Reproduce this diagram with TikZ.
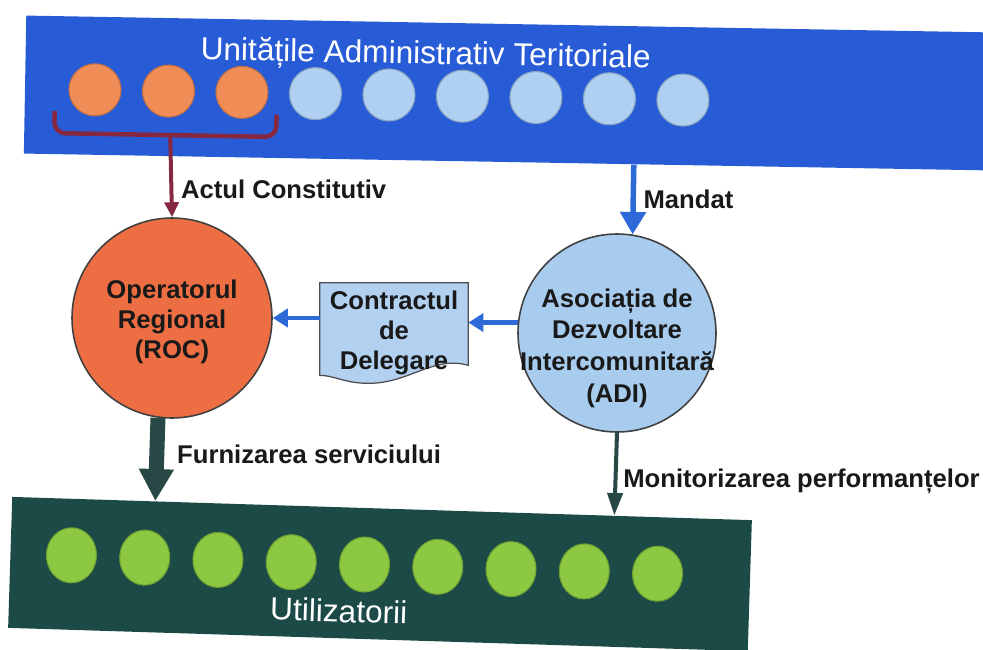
\documentclass[tikz,border=0pt]{standalone}
\usepackage{fontspec}
\setmainfont{Liberation Sans}
\usetikzlibrary{arrows.meta,positioning,calc}
\pgfdeclarelayer{background}
\pgfsetlayers{background,main}
\definecolor{uatblue}{RGB}{40,92,214}
\definecolor{dotorange}{RGB}{240,140,85}
\definecolor{dotblue}{RGB}{175,208,240}
\definecolor{bracered}{RGB}{135,40,65}
\definecolor{rocorange}{RGB}{238,110,68}
\definecolor{adiblue}{RGB}{168,204,238}
\definecolor{docblue}{RGB}{178,208,240}
\definecolor{userteal}{RGB}{28,74,70}
\definecolor{dotgreen}{RGB}{140,200,65}
\definecolor{darkarrow}{RGB}{40,72,70}
\definecolor{arrowblue}{RGB}{45,105,215}
\newcommand\lblfont{\fontsize{14.6}{17}\selectfont\bfseries}
\newcommand\bandfont{\fontsize{18}{21}\selectfont}

\begin{document}
\begin{tikzpicture}[
  band/.style={rectangle, inner sep=0pt, minimum height=2.76cm},
  dotstyle/.style={draw=#1!80!black, fill=#1, line width=0.6pt},
  entity/.style={circle, draw=black!75, line width=0.9pt, inner sep=0pt},
  lbl/.style={font=\lblfont, text=black!90, align=center},
  bluearrow/.style={draw=arrowblue, line width=0.11cm, -{Triangle[width=0.5cm,length=0.45cm]}},
  sidearrow/.style={draw=arrowblue, line width=0.09cm, -{Triangle[width=0.36cm,length=0.3cm]}},
  bracearrow/.style={draw=bracered, line width=0.08cm, -{Triangle[width=0.28cm,length=0.3cm]}},
  thickarrow/.style={draw=darkarrow, line width=0.3cm, -{Triangle[width=0.66cm,length=0.64cm]}},
  thinarrow/.style={draw=darkarrow, line width=0.08cm, -{Triangle[width=0.3cm,length=0.45cm]}}
]
\useasboundingbox (0,0) rectangle (19.66,12.98);

% UAT bar
\node[band, fill=uatblue, minimum width=19.3cm, rotate=-1] (uat) at (10.15,11.12) {};
\begin{scope}[rotate around={-1:(uat.center)}, transform shape]
  \node[font=\bandfont, text=white] (uattitle) at (8.5,11.84) {Unitățile Administrativ Teritoriale};
  \foreach \i in {0,1,2}
    \draw[dotstyle=dotorange] ({1.9+1.47*\i},11.04) circle (0.52);
  \foreach \i in {3,...,8}
    \draw[dotstyle=dotblue] ({1.9+1.47*\i},11.04) circle (0.52);
  \draw[bracered, line width=0.09cm, rounded corners=0.22cm]
    (1.1,10.6) -- (1.1,10.16) -- (5.54,10.16) -- (5.54,10.6);
  \coordinate (brace) at (3.42,10.16);
\end{scope}

% ROC si ADI
\node[entity, fill=rocorange, minimum size=4cm] (roc) at (3.44,6.62) {};
\node[lbl] (roctext) at ([yshift=-0.08cm]roc.center) {Operatorul\\Regional\\(ROC)};
\node[entity, fill=adiblue, minimum size=3.96cm] (adi) at (12.34,6.32) {};
\node[lbl, font=\fontsize{14.6}{18}\selectfont\bfseries] (aditext) at ([yshift=-0.3cm]adi.center)
  {Asociația de\\Dezvoltare\\Intercomunitară\\(ADI)};

% contract
\node[lbl, minimum width=2.96cm, minimum height=2cm, inner sep=0pt] (doc) at (7.88,6.32)
  {Contractul\\de\\Delegare};
\begin{pgfonlayer}{background}
  \draw[fill=docblue, draw=black!70, line width=0.7pt]
    (doc.north west) -- (doc.north east) -- ([yshift=0.36cm]doc.south east)
    .. controls +(-0.7,0.2) and +(0.8,0) .. ([xshift=-0.5cm]doc.south)
    .. controls +(-0.5,0) and +(0.3,0) .. ([yshift=0.16cm]doc.south west) -- cycle;
\end{pgfonlayer}

% Utilizatori bar
\node[band, fill=userteal, minimum width=14.8cm, minimum height=2.62cm, rotate=-1.8] (users) at (7.6,1.5) {};
\begin{scope}[rotate around={-1.8:(users.center)}, transform shape]
  \foreach \i in {0,...,8}
    \draw[dotstyle=dotgreen] ({1.42+1.466*\i},1.68) ellipse (0.5 and 0.55);
  \node[font=\bandfont, text=white] (userstitle) at (6.8,0.74) {Utilizatorii};
\end{scope}

% conexiuni
\draw[bracearrow] (brace) -- node[lbl, right=1pt, pos=.66] {Actul Constitutiv} (roc.north);
\draw[bluearrow] ($(uat.south west)!(adi.81)!(uat.south east)$) -- node[lbl, right=1pt, pos=.5] {Mandat} (adi.81);
\draw[sidearrow] (adi.174) -- (adi.174 -| doc.east);
\draw[sidearrow] (doc.west |- roc.east) -- (roc.east);
\draw[thickarrow] (roc.262) -- node[lbl, right=4pt, pos=.44] {Furnizarea serviciului}
  ($(users.north west)!(roc.262)!(users.north east)$);
\draw[thinarrow] (adi.south) -- node[lbl, right=0pt, pos=.59] {Monitorizarea performanțelor}
  ($(users.north west)!(adi.south)!(users.north east)$);
\end{tikzpicture}
\end{document}
